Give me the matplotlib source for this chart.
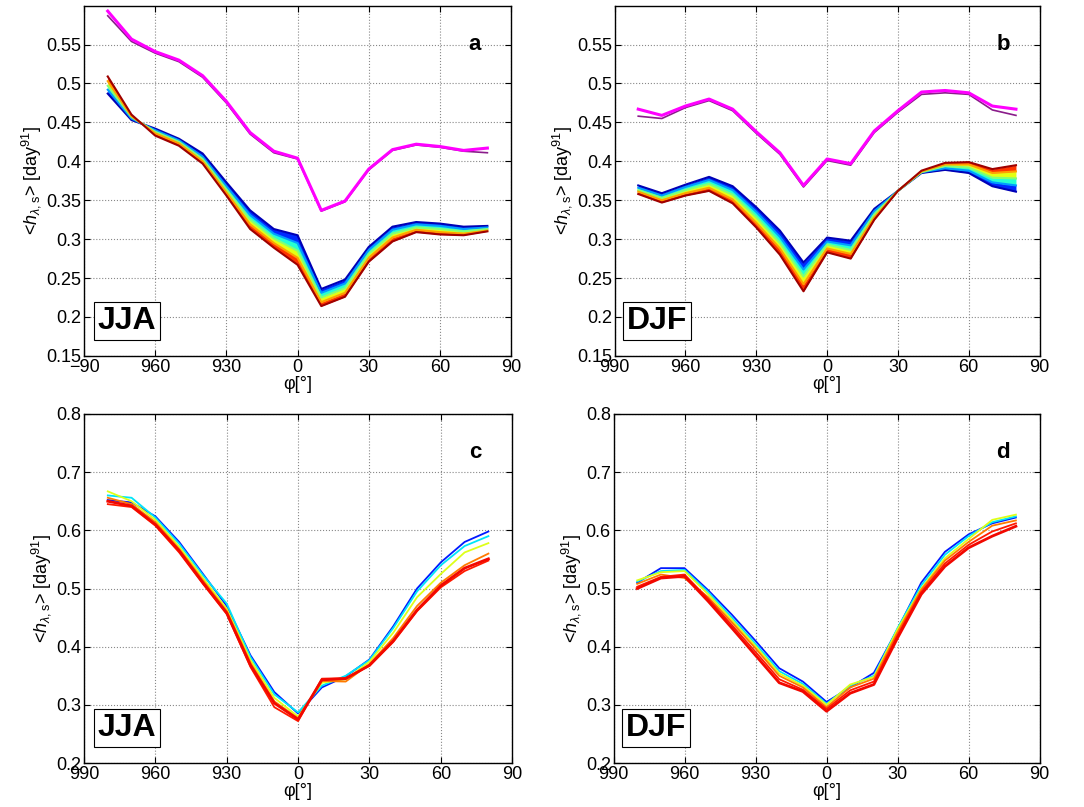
import matplotlib
matplotlib.use('Agg')
import matplotlib.pyplot as plt
import numpy as np

plt.rcParams['font.family'] = ['Liberation Sans', 'DejaVu Sans']
plt.rcParams['mathtext.fontset'] = 'custom'
plt.rcParams['mathtext.rm'] = 'Liberation Sans'
plt.rcParams['mathtext.it'] = 'Liberation Sans:italic'

# latitude of each point
lat = [-80, -70, -60, -50, -40, -30, -20, -10, 0, 10, 20, 30, 40, 50, 60, 70, 80]

# panel a (JJA, upper row): lower band, blue -> dark red
a_band = [
    [.487, .453, .442, .429, .410, .373, .337, .313, .305, .236, .248, .290, .316, .322, .320, .316, .317],
    [.492, .455, .440, .427, .406, .368, .331, .307, .295, .231, .243, .286, .312, .319, .317, .313, .315],
    [.497, .457, .438, .425, .403, .364, .325, .301, .285, .225, .237, .281, .307, .315, .313, .310, .313],
    [.503, .458, .436, .423, .400, .360, .319, .295, .276, .219, .231, .276, .302, .312, .309, .307, .311],
    [.509, .460, .433, .420, .397, .356, .313, .289, .267, .214, .226, .271, .297, .309, .306, .305, .310],
]
a_mag = [
    [.587, .554, .539, .528, .508, .475, .435, .411, .403, .336, .348, .389, .414, .421, .418, .413, .411],
    [.593, .557, .541, .530, .510, .477, .437, .413, .404, .337, .349, .390, .415, .422, .419, .414, .417],
]

# panel b (DJF, upper row)
b_band = [
    [.369, .359, .370, .380, .368, .341, .311, .270, .302, .298, .339, .362, .385, .389, .385, .368, .361],
    [.366, .356, .367, .376, .363, .335, .303, .261, .297, .292, .336, .362, .386, .391, .388, .373, .369],
    [.363, .353, .363, .371, .357, .328, .295, .252, .293, .286, .332, .362, .386, .394, .392, .379, .378],
    [.361, .350, .359, .366, .351, .321, .288, .242, .288, .281, .328, .362, .387, .396, .396, .385, .387],
    [.358, .347, .356, .362, .346, .315, .280, .233, .283, .275, .325, .362, .388, .398, .399, .390, .395],
]
b_mag = [
    [.458, .455, .469, .478, .465, .436, .409, .367, .401, .395, .437, .463, .486, .488, .486, .466, .459],
    [.467, .459, .471, .480, .467, .438, .411, .369, .403, .397, .439, .465, .489, .491, .488, .471, .467],
]

# panel c (JJA, lower row)
c_lines = [
    [.652, .648, .624, .580, .525, .470, .385, .322, .285, .330, .349, .378, .435, .500, .545, .580, .598],
    [.660, .656, .622, .577, .523, .474, .382, .318, .287, .333, .350, .377, .432, .495, .540, .573, .590],
    [.667, .650, .618, .572, .518, .465, .377, .312, .280, .338, .344, .374, .424, .485, .525, .562, .578],
    [.656, .645, .614, .568, .514, .461, .372, .306, .277, .341, .340, .370, .415, .470, .510, .540, .560],
    [.645, .640, .608, .562, .508, .456, .365, .296, .272, .345, .346, .367, .408, .461, .502, .530, .548],
    [.650, .642, .610, .565, .510, .458, .368, .303, .275, .343, .345, .368, .410, .463, .505, .535, .551],
]

# panel d (DJF, lower row)
d_lines = [
    [.510, .535, .535, .497, .455, .410, .363, .340, .305, .330, .355, .430, .510, .563, .593, .612, .622],
    [.512, .530, .532, .494, .450, .405, .358, .336, .302, .333, .350, .432, .505, .558, .590, .614, .624],
    [.514, .528, .530, .490, .446, .401, .354, .333, .300, .335, .348, .430, .500, .552, .585, .618, .627],
    [.508, .524, .518, .485, .442, .397, .350, .330, .296, .330, .345, .425, .498, .548, .580, .608, .617],
    [.503, .520, .524, .482, .437, .391, .344, .326, .293, .325, .340, .420, .494, .543, .575, .598, .612],
    [.500, .518, .521, .478, .432, .385, .338, .323, .289, .320, .335, .415, .490, .538, .570, .590, .607],
]

xticks = [-90, -60, -30, 0, 30, 60, 90]
xlabels_a = ['\u221290', '960', '930', '0', '30', '60', '90']
xlabels = ['990', '960', '930', '0', '30', '60', '90']
ylabel = r'<$h_{\lambda,\mathrm{s}}$> [day$^{91}$]'

fig = plt.figure(figsize=(10.84, 8.07), dpi=100)
ax_a = fig.add_axes([0.0775, 0.559, 0.394, 0.434])
ax_b = fig.add_axes([0.567, 0.559, 0.392, 0.434])
ax_c = fig.add_axes([0.0775, 0.0545, 0.395, 0.4325])
ax_d = fig.add_axes([0.566, 0.0545, 0.393, 0.4325])

jet = plt.cm.jet


def draw_band(ax, band, mags):
    cols = [jet(v) for v in np.linspace(0.05, 0.97, len(band))]
    for i in range(len(band) - 1):
        ax.fill_between(lat, band[i], band[i + 1], color=jet((i + 0.5) / (len(band) - 1) * 0.92 + 0.05),
                        lw=0, zorder=2)
    for i, y in enumerate(band):
        ax.plot(lat, y, color=cols[i], lw=1.5, zorder=3)
    ax.plot(lat, mags[0], color='#8a1c8a', lw=1.2, zorder=3)
    ax.plot(lat, mags[1], color='#ff00ff', lw=2.2, zorder=4)


def draw_lines(ax, lines):
    cols = [jet(v) for v in [0.15, 0.35, 0.62, 0.78, 0.88, 0.9]]
    for i, y in enumerate(lines):
        ax.plot(lat, y, color=cols[i], lw=1.3 if i < 5 else 2.0, zorder=3)


def style(ax, labels, ylim, yticks, ytlabels, letter, season):
    ax.set_xlim(-90, 90)
    ax.set_ylim(*ylim)
    ax.set_xticks(xticks)
    ax.set_xticklabels(labels)
    ax.set_yticks(yticks)
    ax.set_yticklabels(ytlabels)
    ax.tick_params(direction='in', top=True, right=True, labelsize=13, length=4, pad=2)
    ax.grid(True, linestyle=':', color='#888888', lw=0.8)
    ax.set_axisbelow(True)
    for s in ax.spines.values():
        s.set_linewidth(1.0)
    ax.set_xlabel('\u03c6[\u00b0]', fontsize=13, labelpad=0)
    ax.set_ylabel(ylabel, fontsize=13, labelpad=2)
    ax.text(0.915, 0.89, letter, transform=ax.transAxes, fontsize=16, fontweight='bold',
            ha='center', va='center')
    ax.text(0.1, 0.1, season, transform=ax.transAxes, fontsize=23, fontweight='bold',
            ha='center', va='center', zorder=6,
            bbox=dict(boxstyle='square,pad=0.12', facecolor='white', edgecolor='black', lw=0.8))


draw_band(ax_a, a_band, a_mag)
draw_band(ax_b, b_band, b_mag)
draw_lines(ax_c, c_lines)
draw_lines(ax_d, d_lines)

top_ticks = [0.15, 0.2, 0.25, 0.3, 0.35, 0.4, 0.45, 0.5, 0.55]
top_labels = ['0.15', '0.2', '0.25', '0.3', '0.35', '0.4', '0.45', '0.5', '0.55']
bot_ticks = [0.2, 0.3, 0.4, 0.5, 0.6, 0.7, 0.8]
bot_labels = ['0.2', '0.3', '0.4', '0.5', '0.6', '0.7', '0.8']

style(ax_a, xlabels_a, (0.15, 0.6), top_ticks, top_labels, 'a', 'JJA')
style(ax_b, xlabels, (0.15, 0.6), top_ticks, top_labels, 'b', 'DJF')
style(ax_c, xlabels, (0.2, 0.8), bot_ticks, bot_labels, 'c', 'JJA')
style(ax_d, xlabels, (0.2, 0.8), bot_ticks, bot_labels, 'd', 'DJF')

fig.savefig('out.png', dpi=100)
